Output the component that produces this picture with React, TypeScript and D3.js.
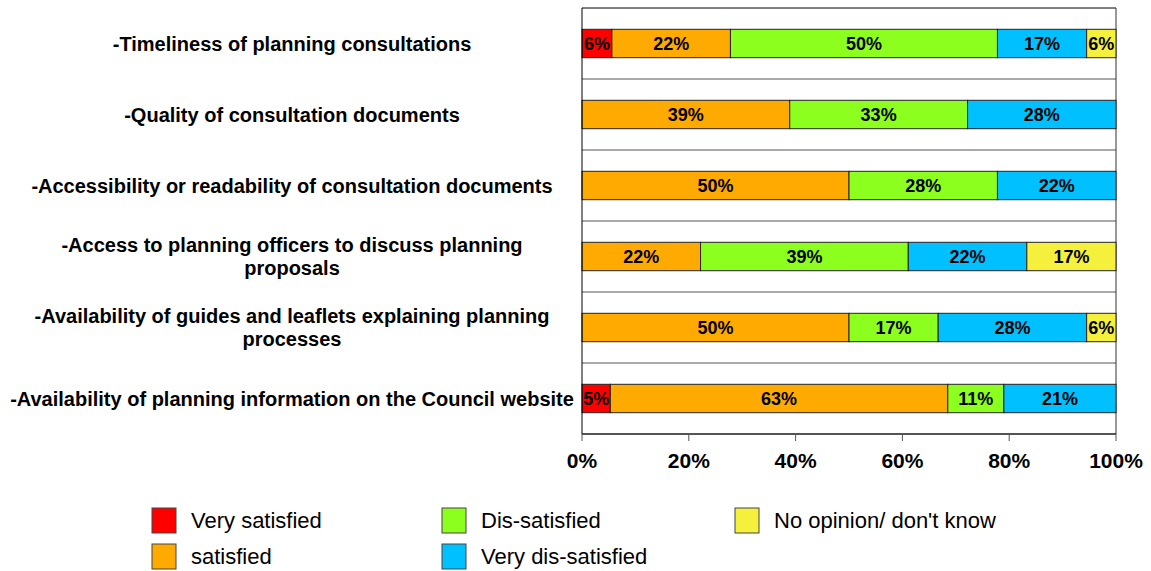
import React from 'react';
import * as d3 from 'd3';

// survey questions (top to bottom), "\n" marks the wrapped line
const categories = [
  '-Timeliness of planning consultations',
  '-Quality of consultation documents',
  '-Accessibility or readability of consultation documents',
  '-Access to planning officers to discuss planning\nproposals',
  '-Availability of guides and leaflets explaining planning\nprocesses',
  '-Availability of planning information on the Council website',
];

// percentages per answer, one entry per category
const verySatisfied = [5.6, 0, 0, 0, 0, 5.3];
const satisfied = [22.2, 38.9, 50, 22.2, 50, 63.2];
const disSatisfied = [50, 33.3, 27.8, 38.9, 16.7, 10.5];
const veryDisSatisfied = [16.7, 27.8, 22.2, 22.2, 27.8, 21.1];
const noOpinion = [5.6, 0, 0, 16.7, 5.6, 0];

const seriesNames = ['Very satisfied', 'satisfied', 'Dis-satisfied', 'Very dis-satisfied', "No opinion/ don't know"];
const seriesColors = ['#ff0000', '#ffaa00', '#8cff1e', '#00c0ff', '#f5f03c'];
const xTicks = [0, 20, 40, 60, 80, 100];

const W = 1151;
const H = 571;
const margin = { top: 8, right: 35, bottom: 137, left: 582 };
const font = "'Liberation Sans', Arial, sans-serif";

export default function App() {
  const seriesValues = [verySatisfied, satisfied, disSatisfied, veryDisSatisfied, noOpinion];

  const x = d3.scaleLinear().domain([0, 100]).range([margin.left, W - margin.right]);
  const y = d3
    .scaleBand<number>()
    .domain(d3.range(categories.length))
    .range([margin.top, H - margin.bottom])
    .paddingInner(0.6)
    .paddingOuter(0.3);
  const bandStep = y.step();
  const plotTop = margin.top;
  const plotBottom = H - margin.bottom;

  // stack the segments row by row
  const segments: { row: number; s: number; x0: number; x1: number; v: number }[] = [];
  categories.forEach((_, row) => {
    let acc = 0;
    seriesValues.forEach((vals, s) => {
      const v = vals[row];
      if (v > 0) {
        segments.push({ row, s, x0: acc, x1: Math.min(100, acc + v), v });
      }
      acc += v;
    });
  });

  const legendCols = [152, 442, 735];
  const legendRows = [508, 544];
  const legendOrder = [
    { s: 0, c: 0, r: 0 },
    { s: 1, c: 0, r: 1 },
    { s: 2, c: 1, r: 0 },
    { s: 3, c: 1, r: 1 },
    { s: 4, c: 2, r: 0 },
  ];

  return (
    <svg width={W} height={H} style={{ position: 'absolute', left: 0, top: 0, background: '#fff' }} fontFamily={font}>
      {/* row separators */}
      {d3.range(categories.length + 1).map(i => (
        <line
          key={'g' + i}
          x1={x(0)}
          x2={x(100)}
          y1={plotTop + i * bandStep}
          y2={plotTop + i * bandStep}
          stroke={i === 0 ? '#000' : '#555'}
          strokeWidth={1}
        />
      ))}
      <line x1={x(100)} x2={x(100)} y1={plotTop} y2={plotBottom} stroke="#333" />

      {/* bars */}
      {segments.map((d, i) => (
        <rect
          key={'r' + i}
          x={x(d.x0)}
          y={y(d.row)}
          width={x(d.x1) - x(d.x0)}
          height={y.bandwidth()}
          fill={seriesColors[d.s]}
          stroke="#222"
          strokeWidth={1}
        />
      ))}
      {segments.map((d, i) => (
        <text
          key={'t' + i}
          x={(x(d.x0) + x(d.x1)) / 2}
          y={(y(d.row) ?? 0) + y.bandwidth() / 2}
          dy="0.36em"
          textAnchor="middle"
          fontSize={18}
          fontWeight="bold"
        >
          {Math.round(d.v) + '%'}
        </text>
      ))}

      {/* axes */}
      <line x1={x(0)} x2={x(0)} y1={plotTop} y2={plotBottom} stroke="#000" />
      <line x1={x(0)} x2={x(100)} y1={plotBottom} y2={plotBottom} stroke="#000" />
      {xTicks.map(t => (
        <g key={'x' + t}>
          <line x1={x(t)} x2={x(t)} y1={plotBottom} y2={plotBottom + 7} stroke="#555" />
          <text x={x(t)} y={plotBottom + 34} textAnchor="middle" fontSize={21} fontWeight="bold">
            {t + '%'}
          </text>
        </g>
      ))}

      {/* category labels */}
      {categories.map((c, i) => {
        const lines = c.split('\n');
        const cy = plotTop + (i + 0.5) * bandStep;
        return (
          <text key={'c' + i} x={292} textAnchor="middle" fontSize={20} fontWeight="bold">
            {lines.map((l, j) => (
              <tspan key={j} x={292} y={cy + (j - (lines.length - 1) / 2) * 23} dy="0.36em">
                {l}
              </tspan>
            ))}
          </text>
        );
      })}

      {/* legend */}
      {legendOrder.map(({ s, c, r }) => (
        <g key={'l' + s}>
          <rect x={legendCols[c]} y={legendRows[r]} width={24} height={25} fill={seriesColors[s]} stroke="#444" />
          <text x={legendCols[c] + 39} y={legendRows[r] + 12.5} dy="0.36em" fontSize={22}>
            {seriesNames[s]}
          </text>
        </g>
      ))}
    </svg>
  );
}
